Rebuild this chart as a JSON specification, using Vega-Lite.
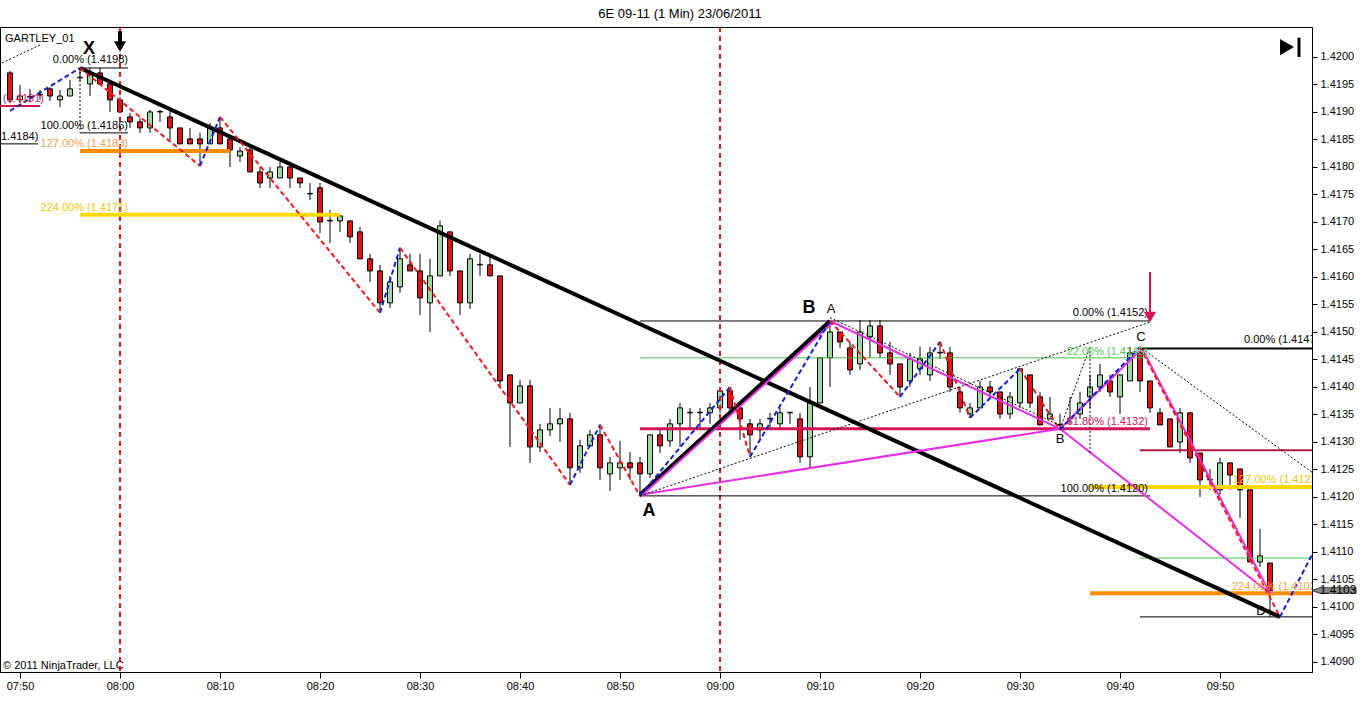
{
  "$schema": "https://vega.github.io/schema/vega-lite/v6.json",
  "width": 1312,
  "height": 645,
  "autosize": {"type": "none"},
  "padding": {"left": 0, "top": 27, "right": 54, "bottom": 46},
  "title": {"text": "6E 09-11 (1 Min)  23/06/2011", "font": "Liberation Sans", "fontSize": 13, "fontWeight": "normal", "color": "black", "baseline": "bottom", "offset": 7, "anchor": "middle", "dy": 15, "dx": 24},
  "config": {
    "view": {"stroke": "black", "strokeWidth": 1},
    "font": "Liberation Sans",
    "axis": {"domainColor": "black", "tickColor": "black", "labelColor": "black", "labelFont": "Liberation Sans", "labelFontSize": 11, "grid": false}
  },
  "datasets": {
    "candles": [
      {"t":469,"o":1.41971,"h":1.41975,"l":1.41916,"c":1.41922},
      {"t":470,"o":1.41922,"h":1.41949,"l":1.41916,"c":1.41929},
      {"t":471,"o":1.41927,"h":1.41942,"l":1.41918,"c":1.41928},
      {"t":472,"o":1.41931,"h":1.41940,"l":1.41922,"c":1.41932},
      {"t":473,"o":1.41942,"h":1.41945,"l":1.41920,"c":1.41929},
      {"t":474,"o":1.41922,"h":1.41940,"l":1.41909,"c":1.41929},
      {"t":475,"o":1.41929,"h":1.41958,"l":1.41929,"c":1.41942},
      {"t":476,"o":1.41962,"h":1.41980,"l":1.41956,"c":1.41963},
      {"t":477,"o":1.41951,"h":1.41980,"l":1.41929,"c":1.41969},
      {"t":478,"o":1.41971,"h":1.41980,"l":1.41951,"c":1.41951},
      {"t":479,"o":1.41951,"h":1.41951,"l":1.41900,"c":1.41922},
      {"t":480,"o":1.41922,"h":1.41927,"l":1.41898,"c":1.41900},
      {"t":481,"o":1.41891,"h":1.41898,"l":1.41871,"c":1.41882},
      {"t":482,"o":1.41882,"h":1.41889,"l":1.41862,"c":1.41871},
      {"t":483,"o":1.41871,"h":1.41904,"l":1.41862,"c":1.41900},
      {"t":484,"o":1.41900,"h":1.41904,"l":1.41882,"c":1.41901},
      {"t":485,"o":1.41891,"h":1.41904,"l":1.41849,"c":1.41871},
      {"t":486,"o":1.41871,"h":1.41871,"l":1.41842,"c":1.41842},
      {"t":487,"o":1.41851,"h":1.41871,"l":1.41842,"c":1.41842},
      {"t":488,"o":1.41851,"h":1.41862,"l":1.41802,"c":1.41842},
      {"t":489,"o":1.41842,"h":1.41880,"l":1.41842,"c":1.41871},
      {"t":490,"o":1.41871,"h":1.41891,"l":1.41842,"c":1.41842},
      {"t":491,"o":1.41851,"h":1.41851,"l":1.41800,"c":1.41831},
      {"t":492,"o":1.41820,"h":1.41836,"l":1.41809,"c":1.41829},
      {"t":493,"o":1.41831,"h":1.41836,"l":1.41791,"c":1.41791},
      {"t":494,"o":1.41791,"h":1.41800,"l":1.41762,"c":1.41771},
      {"t":495,"o":1.41780,"h":1.41800,"l":1.41762,"c":1.41791},
      {"t":496,"o":1.41780,"h":1.41809,"l":1.41780,"c":1.41800},
      {"t":497,"o":1.41800,"h":1.41809,"l":1.41762,"c":1.41780},
      {"t":498,"o":1.41780,"h":1.41780,"l":1.41762,"c":1.41771},
      {"t":499,"o":1.41751,"h":1.41771,"l":1.41740,"c":1.41752},
      {"t":500,"o":1.41762,"h":1.41771,"l":1.41680,"c":1.41700},
      {"t":501,"o":1.41702,"h":1.41722,"l":1.41662,"c":1.41703},
      {"t":502,"o":1.41702,"h":1.41711,"l":1.41682,"c":1.41711},
      {"t":503,"o":1.41702,"h":1.41702,"l":1.41662,"c":1.41673},
      {"t":504,"o":1.41682,"h":1.41691,"l":1.41633,"c":1.41633},
      {"t":505,"o":1.41633,"h":1.41642,"l":1.41591,"c":1.41611},
      {"t":506,"o":1.41611,"h":1.41622,"l":1.41535,"c":1.41553},
      {"t":507,"o":1.41553,"h":1.41602,"l":1.41544,"c":1.41591},
      {"t":508,"o":1.41582,"h":1.41653,"l":1.41571,"c":1.41633},
      {"t":509,"o":1.41622,"h":1.41642,"l":1.41611,"c":1.41611},
      {"t":510,"o":1.41611,"h":1.41642,"l":1.41531,"c":1.41562},
      {"t":511,"o":1.41553,"h":1.41633,"l":1.41500,"c":1.41602},
      {"t":512,"o":1.41602,"h":1.41702,"l":1.41602,"c":1.41693},
      {"t":513,"o":1.41682,"h":1.41682,"l":1.41602,"c":1.41611},
      {"t":514,"o":1.41611,"h":1.41611,"l":1.41531,"c":1.41553},
      {"t":515,"o":1.41553,"h":1.41642,"l":1.41542,"c":1.41633},
      {"t":516,"o":1.41622,"h":1.41642,"l":1.41602,"c":1.41623},
      {"t":517,"o":1.41622,"h":1.41642,"l":1.41602,"c":1.41602},
      {"t":518,"o":1.41602,"h":1.41602,"l":1.41400,"c":1.41411},
      {"t":519,"o":1.41422,"h":1.41422,"l":1.41291,"c":1.41371},
      {"t":520,"o":1.41371,"h":1.41413,"l":1.41371,"c":1.41402},
      {"t":521,"o":1.41402,"h":1.41413,"l":1.41262,"c":1.41291},
      {"t":522,"o":1.41291,"h":1.41333,"l":1.41282,"c":1.41322},
      {"t":523,"o":1.41322,"h":1.41362,"l":1.41311,"c":1.41333},
      {"t":524,"o":1.41333,"h":1.41362,"l":1.41300,"c":1.41342},
      {"t":525,"o":1.41342,"h":1.41353,"l":1.41222,"c":1.41253},
      {"t":526,"o":1.41253,"h":1.41304,"l":1.41244,"c":1.41293},
      {"t":527,"o":1.41293,"h":1.41322,"l":1.41291,"c":1.41313},
      {"t":528,"o":1.41313,"h":1.41333,"l":1.41231,"c":1.41253},
      {"t":529,"o":1.41242,"h":1.41273,"l":1.41211,"c":1.41262},
      {"t":530,"o":1.41253,"h":1.41302,"l":1.41231,"c":1.41262},
      {"t":531,"o":1.41262,"h":1.41282,"l":1.41231,"c":1.41253},
      {"t":532,"o":1.41262,"h":1.41273,"l":1.41202,"c":1.41242},
      {"t":533,"o":1.41242,"h":1.41313,"l":1.41235,"c":1.41313},
      {"t":534,"o":1.41313,"h":1.41322,"l":1.41280,"c":1.41293},
      {"t":535,"o":1.41302,"h":1.41342,"l":1.41291,"c":1.41333},
      {"t":536,"o":1.41333,"h":1.41371,"l":1.41291,"c":1.41362},
      {"t":537,"o":1.41353,"h":1.41362,"l":1.41322,"c":1.41354},
      {"t":538,"o":1.41353,"h":1.41362,"l":1.41322,"c":1.41354},
      {"t":539,"o":1.41353,"h":1.41371,"l":1.41333,"c":1.41362},
      {"t":540,"o":1.41362,"h":1.41393,"l":1.41353,"c":1.41393},
      {"t":541,"o":1.41393,"h":1.41400,"l":1.41353,"c":1.41362},
      {"t":542,"o":1.41362,"h":1.41362,"l":1.41304,"c":1.41342},
      {"t":543,"o":1.41333,"h":1.41342,"l":1.41273,"c":1.41313},
      {"t":544,"o":1.41322,"h":1.41342,"l":1.41304,"c":1.41333},
      {"t":545,"o":1.41342,"h":1.41353,"l":1.41322,"c":1.41343},
      {"t":546,"o":1.41333,"h":1.41362,"l":1.41322,"c":1.41353},
      {"t":547,"o":1.41353,"h":1.41353,"l":1.41333,"c":1.41354},
      {"t":548,"o":1.41342,"h":1.41353,"l":1.41262,"c":1.41273},
      {"t":549,"o":1.41273,"h":1.41400,"l":1.41253,"c":1.41371},
      {"t":550,"o":1.41371,"h":1.41453,"l":1.41371,"c":1.41453},
      {"t":551,"o":1.41453,"h":1.41520,"l":1.41400,"c":1.41500},
      {"t":552,"o":1.41500,"h":1.41500,"l":1.41471,"c":1.41482},
      {"t":553,"o":1.41471,"h":1.41482,"l":1.41422,"c":1.41431},
      {"t":554,"o":1.41442,"h":1.41522,"l":1.41431,"c":1.41500},
      {"t":555,"o":1.41491,"h":1.41522,"l":1.41453,"c":1.41511},
      {"t":556,"o":1.41511,"h":1.41522,"l":1.41453,"c":1.41462},
      {"t":557,"o":1.41462,"h":1.41482,"l":1.41422,"c":1.41442},
      {"t":558,"o":1.41442,"h":1.41442,"l":1.41382,"c":1.41400},
      {"t":559,"o":1.41411,"h":1.41462,"l":1.41400,"c":1.41451},
      {"t":560,"o":1.41433,"h":1.41473,"l":1.41422,"c":1.41451},
      {"t":561,"o":1.41422,"h":1.41473,"l":1.41411,"c":1.41462},
      {"t":562,"o":1.41462,"h":1.41482,"l":1.41451,"c":1.41463},
      {"t":563,"o":1.41462,"h":1.41473,"l":1.41391,"c":1.41400},
      {"t":564,"o":1.41391,"h":1.41400,"l":1.41353,"c":1.41362},
      {"t":565,"o":1.41351,"h":1.41371,"l":1.41344,"c":1.41362},
      {"t":566,"o":1.41362,"h":1.41411,"l":1.41362,"c":1.41400},
      {"t":567,"o":1.41400,"h":1.41411,"l":1.41382,"c":1.41391},
      {"t":568,"o":1.41391,"h":1.41391,"l":1.41342,"c":1.41351},
      {"t":569,"o":1.41351,"h":1.41391,"l":1.41342,"c":1.41382},
      {"t":570,"o":1.41371,"h":1.41433,"l":1.41362,"c":1.41433},
      {"t":571,"o":1.41422,"h":1.41422,"l":1.41362,"c":1.41371},
      {"t":572,"o":1.41382,"h":1.41391,"l":1.41331,"c":1.41331},
      {"t":573,"o":1.41342,"h":1.41382,"l":1.41342,"c":1.41351},
      {"t":574,"o":1.41331,"h":1.41351,"l":1.41322,"c":1.41332},
      {"t":575,"o":1.41342,"h":1.41382,"l":1.41331,"c":1.41343},
      {"t":576,"o":1.41351,"h":1.41391,"l":1.41342,"c":1.41371},
      {"t":577,"o":1.41382,"h":1.41422,"l":1.41362,"c":1.41400},
      {"t":578,"o":1.41400,"h":1.41442,"l":1.41391,"c":1.41422},
      {"t":579,"o":1.41411,"h":1.41422,"l":1.41382,"c":1.41391},
      {"t":580,"o":1.41382,"h":1.41422,"l":1.41351,"c":1.41422},
      {"t":581,"o":1.41411,"h":1.41473,"l":1.41411,"c":1.41462},
      {"t":582,"o":1.41462,"h":1.41473,"l":1.41391,"c":1.41411},
      {"t":583,"o":1.41411,"h":1.41411,"l":1.41353,"c":1.41362},
      {"t":584,"o":1.41353,"h":1.41362,"l":1.41331,"c":1.41331},
      {"t":585,"o":1.41342,"h":1.41342,"l":1.41291,"c":1.41291},
      {"t":586,"o":1.41300,"h":1.41362,"l":1.41280,"c":1.41353},
      {"t":587,"o":1.41353,"h":1.41353,"l":1.41262,"c":1.41271},
      {"t":588,"o":1.41280,"h":1.41280,"l":1.41200,"c":1.41231},
      {"t":589,"o":1.41231,"h":1.41251,"l":1.41213,"c":1.41232},
      {"t":590,"o":1.41213,"h":1.41271,"l":1.41204,"c":1.41262},
      {"t":591,"o":1.41262,"h":1.41262,"l":1.41213,"c":1.41240},
      {"t":592,"o":1.41251,"h":1.41251,"l":1.41162,"c":1.41213},
      {"t":593,"o":1.41213,"h":1.41213,"l":1.41082,"c":1.41082},
      {"t":594,"o":1.41082,"h":1.41142,"l":1.41073,"c":1.41093},
      {"t":595,"o":1.41080,"h":1.41080,"l":1.40982,"c":1.41030}
    ],
    "vlines": [{"t":480,"p":1.420545,"p2":1.408818},{"t":540,"p":1.420545,"p2":1.408818}],
    "solid": [
      {"t":476,"p":1.41980,"t2":480.8,"p2":1.41980,"col":"black","w":1},
      {"t":476,"p":1.41862,"t2":480.8,"p2":1.41862,"col":"black","w":1},
      {"t":476,"p":1.41829,"t2":491,"p2":1.41829,"col":"#ff8c00","w":4},
      {"t":476,"p":1.41713,"t2":502,"p2":1.41713,"col":"#ffd700","w":4},
      {"t":532,"p":1.41520,"t2":583,"p2":1.41520,"col":"black","w":1},
      {"t":532,"p":1.41453,"t2":583,"p2":1.41453,"col":"#44c044","w":1},
      {"t":532,"p":1.41324,"t2":583,"p2":1.41324,"col":"#d4145a","w":3},
      {"t":532,"p":1.41202,"t2":583,"p2":1.41202,"col":"black","w":1},
      {"t":582,"p":1.41470,"t2":599.2,"p2":1.41470,"col":"black","w":2},
      {"t":582,"p":1.41285,"t2":599.2,"p2":1.41285,"col":"#b01c40","w":2},
      {"t":577,"p":1.41218,"t2":599.2,"p2":1.41218,"col":"#ffd700","w":4},
      {"t":582,"p":1.41089,"t2":599.2,"p2":1.41089,"col":"#44c044","w":1},
      {"t":577,"p":1.41025,"t2":599.2,"p2":1.41025,"col":"#ff8c00","w":4},
      {"t":582,"p":1.40982,"t2":599.2,"p2":1.40982,"col":"black","w":1},
      {"t":468,"p":1.41911,"t2":472,"p2":1.41911,"col":"#d4145a","w":2},
      {"t":468,"p":1.41842,"t2":471.8,"p2":1.41842,"col":"black","w":1},
      {"t":476,"p":1.41980,"t2":596,"p2":1.40982,"col":"black","w":4},
      {"t":532,"p":1.41204,"t2":551,"p2":1.41520,"col":"black","w":4},
      {"t":532,"p":1.41200,"t2":551.2,"p2":1.41516,"col":"#e62ee6","w":2},
      {"t":551,"p":1.41520,"t2":574,"p2":1.41324,"col":"#e62ee6","w":2},
      {"t":532,"p":1.41204,"t2":574,"p2":1.41324,"col":"#e62ee6","w":2},
      {"t":574,"p":1.41324,"t2":582.2,"p2":1.41470,"col":"#e62ee6","w":2},
      {"t":582.2,"p":1.41470,"t2":595,"p2":1.41025,"col":"#e62ee6","w":2},
      {"t":574,"p":1.41324,"t2":595,"p2":1.41025,"col":"#e62ee6","w":2}
    ],
    "zig": [
      {"t":469,"p":1.41902,"t2":476,"p2":1.41980,"col":"#1020d0"},
      {"t":476,"p":1.41980,"t2":488,"p2":1.41802,"col":"#ee1c1c"},
      {"t":488,"p":1.41802,"t2":490,"p2":1.41891,"col":"#1020d0"},
      {"t":490,"p":1.41891,"t2":506,"p2":1.41535,"col":"#ee1c1c"},
      {"t":506,"p":1.41535,"t2":508,"p2":1.41653,"col":"#1020d0"},
      {"t":508,"p":1.41653,"t2":525,"p2":1.41222,"col":"#ee1c1c"},
      {"t":525,"p":1.41222,"t2":528,"p2":1.41331,"col":"#1020d0"},
      {"t":528,"p":1.41331,"t2":532,"p2":1.41202,"col":"#ee1c1c"},
      {"t":532,"p":1.41202,"t2":541,"p2":1.41400,"col":"#1020d0"},
      {"t":541,"p":1.41400,"t2":543,"p2":1.41273,"col":"#ee1c1c"},
      {"t":543,"p":1.41273,"t2":551,"p2":1.41520,"col":"#1020d0"},
      {"t":551,"p":1.41520,"t2":558,"p2":1.41382,"col":"#ee1c1c"},
      {"t":558,"p":1.41382,"t2":562,"p2":1.41482,"col":"#1020d0"},
      {"t":562,"p":1.41482,"t2":565,"p2":1.41344,"col":"#ee1c1c"},
      {"t":565,"p":1.41344,"t2":570,"p2":1.41433,"col":"#1020d0"},
      {"t":570,"p":1.41433,"t2":574,"p2":1.41322,"col":"#ee1c1c"},
      {"t":574,"p":1.41322,"t2":582,"p2":1.41473,"col":"#1020d0"},
      {"t":582,"p":1.41473,"t2":596,"p2":1.40982,"col":"#ee1c1c"},
      {"t":596,"p":1.40982,"t2":599.2,"p2":1.41095,"col":"#1020d0"}
    ],
    "dots": [
      {"t":532,"p":1.41202,"t2":583,"p2":1.41518},
      {"t":582.2,"p":1.41470,"t2":599.2,"p2":1.41245},
      {"t":574,"p":1.41324,"t2":577,"p2":1.41473},
      {"t":577,"p":1.41473,"t2":577,"p2":1.41276},
      {"t":476,"p":1.41980,"t2":476,"p2":1.41862},
      {"t":551,"p":1.41526,"t2":574,"p2":1.41330},
      {"t":468.2,"p":1.41989,"t2":472,"p2":1.42022}
    ],
    "lblR": [
      {"t":480.8,"p":1.41995,"txt":"0.00% (1.4198)","col":"black"},
      {"t":480.8,"p":1.41875,"txt":"100.00% (1.4186)","col":"black"},
      {"t":480.8,"p":1.41842,"txt":"127.00% (1.4183)","col":"#f5a04a"},
      {"t":480.8,"p":1.41725,"txt":"224.00% (1.4171)","col":"#f2c40c"},
      {"t":582.8,"p":1.41535,"txt":"0.00% (1.4152)","col":"black"},
      {"t":582.8,"p":1.41464,"txt":"22.00% (1.4145)","col":"#55c855"},
      {"t":582.8,"p":1.41336,"txt":"61.80% (1.4132)","col":"#d4145a"},
      {"t":582.8,"p":1.41215,"txt":"100.00% (1.4120)","col":"black"}
    ],
    "lblL": [
      {"t":592.4,"p":1.41485,"txt":"0.00% (1.4147)","col":"black"},
      {"t":591.3,"p":1.41231,"txt":"127.00% (1.4122)","col":"#f2c40c"},
      {"t":591.2,"p":1.41036,"txt":"224.00% (1.4102)","col":"#f5a04a"}
    ],
    "lblBig": [
      {"t":476.9,"p":1.42015,"txt":"X"},
      {"t":532.9,"p":1.41175,"txt":"A"},
      {"t":548.9,"p":1.41544,"txt":"B"}
    ],
    "lblSmall": [
      {"t":551.1,"p":1.41542,"txt":"A"},
      {"t":574,"p":1.41305,"txt":"B"},
      {"t":582.1,"p":1.41491,"txt":"C"},
      {"t":594.1,"p":1.40993,"txt":"D"}
    ],
    "lblMisc": [
      {"t":468.5,"p":1.42033,"txt":"GARTLEY_01","col":"black"},
      {"t":468.1,"p":1.41855,"txt":"1.4184)","col":"black"},
      {"t":468.3,"p":1.41924,"txt":"(1.4191)","col":"#d4145a"},
      {"t":468.3,"p":1.40893,"txt":"© 2011 NinjaTrader, LLC","col":"black"}
    ],
    "shafts": [
      {"t":480,"p":1.42047,"p2":1.42026,"col":"black","w":4},
      {"t":583,"p":1.41609,"p2":1.41536,"col":"#d4145a","w":2},
      {"t":597.9,"p":1.42035,"p2":1.42000,"col":"black","w":3}
    ],
    "tris": [
      {"t":480,"p":1.42019,"shape":"triangle-down","col":"black","sz":150},
      {"t":583,"p":1.41527,"shape":"triangle-down","col":"#d4145a","sz":150},
      {"t":596.7,"p":1.42018,"shape":"triangle-right","col":"black","sz":260}
    ],
    "tag": [{"t":601.4,"p":1.4103,"txt":"1.4103"}]
  },
  "encoding": {
    "x": {"field": "t", "type": "quantitative", "scale": {"domain": [468, 599.2], "nice": false, "zero": false, "padding": 0},
      "axis": {"orient": "bottom", "title": null, "values": [470,480,490,500,510,520,530,540,550,560,570,580,590], "labelExpr": "(datum.value < 600 ? '0' : '') + floor(datum.value / 60) + ':' + (datum.value % 60 < 10 ? '0' : '') + (datum.value % 60)", "tickSize": 6, "labelPadding": 2, "labelFlush": false, "labelOverlap": false}},
    "y": {"field": "p", "type": "quantitative", "scale": {"domain": [1.408818, 1.420545], "nice": false, "zero": false, "padding": 0},
      "axis": {"orient": "right", "title": null, "values": [1.409,1.4095,1.41,1.4105,1.411,1.4115,1.412,1.4125,1.413,1.4135,1.414,1.4145,1.415,1.4155,1.416,1.4165,1.417,1.4175,1.418,1.4185,1.419,1.4195,1.42], "format": ".4f", "tickSize": 5, "labelPadding": 3, "labelFlush": false, "labelOverlap": false}}
  },
  "layer": [
    {
      "data": {"name": "candles"},
      "mark": {"type": "rule", "color": "black", "strokeWidth": 1},
      "encoding": {
        "y": {"field": "h", "type": "quantitative", "scale": {"domain": [1.408818, 1.420545], "nice": false, "zero": false, "padding": 0},
          "axis": {"orient": "right", "title": null, "values": [1.409,1.4095,1.41,1.4105,1.411,1.4115,1.412,1.4125,1.413,1.4135,1.414,1.4145,1.415,1.4155,1.416,1.4165,1.417,1.4175,1.418,1.4185,1.419,1.4195,1.42], "format": ".4f", "tickSize": 5, "labelPadding": 3, "labelFlush": false, "labelOverlap": false}},
        "y2": {"field": "l"}
      }
    },
    {
      "data": {"name": "candles"},
      "mark": {"type": "bar", "size": 5, "stroke": "black", "strokeWidth": 1},
      "encoding": {
        "y": {"field": "o", "type": "quantitative", "scale": {"domain": [1.408818, 1.420545], "nice": false, "zero": false, "padding": 0},
          "axis": {"orient": "right", "title": null, "values": [1.409,1.4095,1.41,1.4105,1.411,1.4115,1.412,1.4125,1.413,1.4135,1.414,1.4145,1.415,1.4155,1.416,1.4165,1.417,1.4175,1.418,1.4185,1.419,1.4195,1.42], "format": ".4f", "tickSize": 5, "labelPadding": 3, "labelFlush": false, "labelOverlap": false}},
        "y2": {"field": "c"},
        "fill": {"condition": {"test": "datum.c >= datum.o", "value": "#9cd89c"}, "value": "#dc1414"}
      }
    },
    {
      "data": {"name": "vlines"},
      "mark": {"type": "rule", "color": "#e01818", "strokeWidth": 2, "strokeDash": [5, 4]},
      "encoding": {"y2": {"field": "p2"}}
    },
    {
      "data": {"name": "solid"},
      "mark": {"type": "rule"},
      "encoding": {
        "x2": {"field": "t2"},
        "y2": {"field": "p2"},
        "color": {"field": "col", "type": "nominal", "scale": null},
        "strokeWidth": {"field": "w", "type": "quantitative", "scale": null}
      }
    },
    {
      "data": {"name": "zig"},
      "mark": {"type": "rule", "strokeWidth": 2, "strokeDash": [5, 3]},
      "encoding": {
        "x2": {"field": "t2"},
        "y2": {"field": "p2"},
        "color": {"field": "col", "type": "nominal", "scale": null}
      }
    },
    {
      "data": {"name": "dots"},
      "mark": {"type": "rule", "strokeWidth": 1, "strokeDash": [2, 2], "color": "black"},
      "encoding": {
        "x2": {"field": "t2"},
        "y2": {"field": "p2"}
      }
    },
    {
      "data": {"name": "lblR"},
      "mark": {"type": "text", "align": "right", "baseline": "middle", "fontSize": 11, "font": "Liberation Sans"},
      "encoding": {
        "text": {"field": "txt"},
        "color": {"field": "col", "type": "nominal", "scale": null}
      }
    },
    {
      "data": {"name": "lblL"},
      "mark": {"type": "text", "align": "left", "baseline": "middle", "fontSize": 11, "font": "Liberation Sans", "clip": true},
      "encoding": {
        "text": {"field": "txt"},
        "color": {"field": "col", "type": "nominal", "scale": null}
      }
    },
    {
      "data": {"name": "lblMisc"},
      "mark": {"type": "text", "align": "left", "baseline": "middle", "fontSize": 11, "font": "Liberation Sans"},
      "encoding": {
        "text": {"field": "txt"},
        "color": {"field": "col", "type": "nominal", "scale": null}
      }
    },
    {
      "data": {"name": "lblBig"},
      "mark": {"type": "text", "align": "center", "baseline": "middle", "fontSize": 18, "fontWeight": "bold", "font": "Liberation Sans", "color": "black"},
      "encoding": {"text": {"field": "txt"}}
    },
    {
      "data": {"name": "lblSmall"},
      "mark": {"type": "text", "align": "center", "baseline": "middle", "fontSize": 13, "font": "Liberation Sans", "color": "black"},
      "encoding": {"text": {"field": "txt"}}
    },
    {
      "data": {"name": "shafts"},
      "mark": {"type": "rule"},
      "encoding": {
        "y2": {"field": "p2"},
        "color": {"field": "col", "type": "nominal", "scale": null},
        "strokeWidth": {"field": "w", "type": "quantitative", "scale": null}
      }
    },
    {
      "data": {"name": "tris"},
      "mark": {"type": "point", "filled": true, "opacity": 1},
      "encoding": {
        "shape": {"field": "shape", "type": "nominal", "scale": null},
        "color": {"field": "col", "type": "nominal", "scale": null},
        "size": {"field": "sz", "type": "quantitative", "scale": null}
      }
    },
    {
      "data": {"name": "tag"},
      "mark": {"type": "point", "filled": true, "opacity": 1, "shape": "M-1,0L-0.64,-0.125L1,-0.125L1,0.125L-0.64,0.125Z", "size": 1936, "fill": "#8a8a8a", "stroke": "#3a3a3a", "strokeWidth": 1}
    },
    {
      "data": {"name": "tag"},
      "mark": {"type": "text", "align": "center", "baseline": "middle", "fontSize": 12, "font": "Liberation Sans", "color": "black", "dx": 4},
      "encoding": {"text": {"field": "txt"}}
    }
  ]
}
